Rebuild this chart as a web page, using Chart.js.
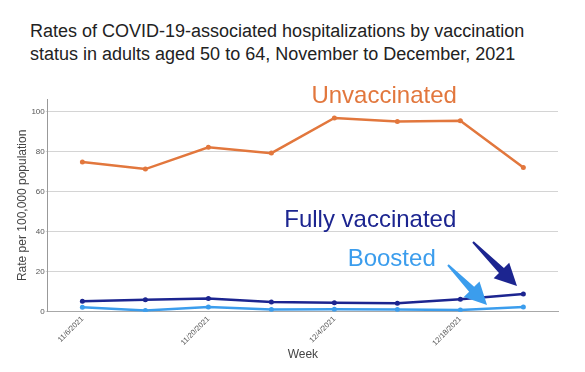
<!DOCTYPE html>
<html>
<head>
<meta charset="utf-8">
<script src="https://cdn.jsdelivr.net/npm/chart.js@4.4.1/dist/chart.umd.min.js"></script>
<style>
  html, body { margin: 0; padding: 0; background: #fff; }
  #wrap { position: relative; width: 585px; height: 372px; }
  #title {
    position: absolute; left: 30px; top: 20px;
    font: 18px "Liberation Sans", Arial, sans-serif;
    line-height: 23px; color: #222;
  }
  canvas { position: absolute; left: 0; top: 0; }
</style>
</head>
<body>
<div id="wrap">
  <div id="title">Rates of COVID-19-associated hospitalizations by vaccination<br>status in adults aged 50 to 64, November to December, 2021</div>
  <canvas id="chart" width="585" height="372"></canvas>
</div>
<script>
// weekly data
const weeks = ['11/6/2021', '11/13/2021', '11/20/2021', '11/27/2021', '12/4/2021', '12/11/2021', '12/18/2021', '12/25/2021'];
const unvaccinated = [75.0, 71.4, 82.3, 79.4, 97.0, 95.2, 95.6, 72.2];
const fullyVaccinated = [5.2, 6.0, 6.6, 4.9, 4.5, 4.2, 6.2, 8.9];
const boosted = [2.2, 0.6, 2.4, 1.1, 1.2, 1.1, 0.9, 2.4];
const yTicks = [0, 20, 40, 60, 80, 100];
const xTickIdx = [0, 2, 4, 6];

const ORANGE = '#e2773d';
const NAVY = '#1c2590';
const LIGHT = '#3b9ded';

const pts = arr => arr.map((v, i) => ({ x: i, y: v }));

// big coloured labels + arrows
const notes = {
  id: 'notes',
  afterDatasetsDraw(chart) {
    const ctx = chart.ctx;
    const xs = chart.scales.x, ys = chart.scales.y;
    ctx.save();
    ctx.font = '24px "Liberation Sans", Arial, sans-serif';
    ctx.textBaseline = 'alphabetic';
    ctx.textAlign = 'center';
    ctx.fillStyle = ORANGE;
    ctx.fillText('Unvaccinated', xs.getPixelForValue(4.79), ys.getPixelForValue(104.5));
    ctx.fillStyle = NAVY;
    ctx.fillText('Fully vaccinated', xs.getPixelForValue(4.57), ys.getPixelForValue(42.2));
    ctx.fillStyle = LIGHT;
    ctx.fillText('Boosted', xs.getPixelForValue(4.91), ys.getPixelForValue(23.1));

    // arrow: tapered shaft + triangular head
    function arrow(x1, y1, x2, y2, color, headLen, headW) {
      const a = Math.atan2(y2 - y1, x2 - x1);
      const len = Math.hypot(x2 - x1, y2 - y1);
      ctx.save();
      ctx.translate(x1, y1);
      ctx.rotate(a);
      ctx.fillStyle = color;
      ctx.beginPath();
      ctx.moveTo(0, -1);
      ctx.lineTo(len - headLen, -3.5);
      ctx.lineTo(len - headLen, -headW / 2);
      ctx.lineTo(len, 0);
      ctx.lineTo(len - headLen, headW / 2);
      ctx.lineTo(len - headLen, 3.5);
      ctx.lineTo(0, 1);
      ctx.closePath();
      ctx.fill();
      ctx.restore();
    }
    arrow(473, 242, 517, 286, NAVY, 22, 22);
    arrow(448, 265, 487, 305, LIGHT, 22, 22);
    ctx.restore();
  }
};

new Chart(document.getElementById('chart'), {
  type: 'line',
  data: {
    datasets: [
      { label: 'Unvaccinated', data: pts(unvaccinated), borderColor: ORANGE, backgroundColor: ORANGE,
        borderWidth: 2.5, pointRadius: 2.5, pointBorderWidth: 0, tension: 0 },
      { label: 'Fully vaccinated', data: pts(fullyVaccinated), borderColor: NAVY, backgroundColor: NAVY,
        borderWidth: 2.5, pointRadius: 2.5, pointBorderWidth: 0, tension: 0 },
      { label: 'Boosted', data: pts(boosted), borderColor: LIGHT, backgroundColor: LIGHT,
        borderWidth: 2.5, pointRadius: 2.5, pointBorderWidth: 0, tension: 0 }
    ]
  },
  options: {
    responsive: false,
    animation: false,
    layout: { padding: { top: 99, right: 27, bottom: 8, left: 15 } },
    plugins: { legend: { display: false }, tooltip: { enabled: false } },
    scales: {
      x: {
        type: 'linear',
        min: -0.55, max: 7.55,
        afterBuildTicks: axis => { axis.ticks = xTickIdx.map(v => ({ value: v })); },
        grid: { display: false, drawTicks: true, tickLength: 3 },
        border: { color: '#a8a8a8', width: 1 },
        ticks: {
          autoSkip: false, maxRotation: 45, minRotation: 45, padding: 0,
          color: '#555', font: { size: 7.5, family: 'Liberation Sans' },
          callback: v => weeks[v] || ''
        },
        title: { display: true, text: 'Week', color: '#444',
          font: { size: 12, family: 'Liberation Sans' }, padding: { top: 0, bottom: 2 } }
      },
      y: {
        min: 0, max: 106.5,
        afterBuildTicks: axis => { axis.ticks = yTicks.map(v => ({ value: v })); },
        grid: { color: '#d4d4d4', lineWidth: 1, tickLength: 2 },
        border: { color: '#999', width: 1 },
        ticks: { color: '#555', font: { size: 8, family: 'Liberation Sans' }, padding: 1 },
        title: { display: true, text: 'Rate per 100,000 population', color: '#444',
          font: { size: 12, family: 'Liberation Sans' }, padding: { top: 0, bottom: 1 } }
      }
    }
  },
  plugins: [notes]
});
</script>
</body>
</html>
